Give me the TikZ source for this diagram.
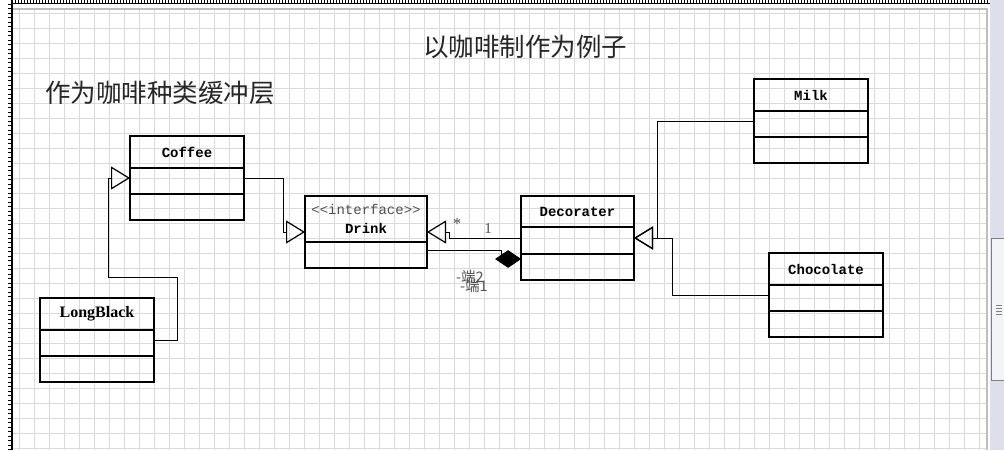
\documentclass[tikz,border=0pt]{standalone}
\usepackage{fontspec}
\setmainfont{Liberation Serif}
\newfontfamily\cjk{Noto Sans CJK SC}
\newfontfamily\umlmono{Liberation Mono}
\usetikzlibrary{shapes.geometric, arrows.meta, calc, positioning}
\definecolor{gridgray}{RGB}{218,218,218}
\definecolor{pagegray}{RGB}{190,190,190}
\definecolor{scrollblue}{RGB}{221,224,234}
\definecolor{labelgray}{RGB}{80,80,80}

\begin{document}
\begin{tikzpicture}[x=1pt, y=-1pt]
        \tikzstyle{classhead}=[draw, line width=1.6pt, minimum width=114pt, minimum height=32pt, inner sep=0pt, outer sep=0pt, anchor=north, font=\umlmono\bfseries\fontsize{14}{16}\selectfont]
        \tikzstyle{classpart}=[draw, line width=1.6pt, minimum width=114pt, minimum height=26pt, inner sep=0pt, outer sep=0pt, anchor=north]
        \tikzstyle{link}=[line width=0.8pt]
        \tikzstyle{inherit}=[link, -{Triangle[open, length=19pt, width=23pt, line width=1.2pt]}]
        \tikzstyle{gridline}=[gridgray, line width=0.8pt]
        \tikzstyle{mult}=[inner sep=0pt, text=labelgray]

        % Canvas
        \useasboundingbox (0,0) rectangle (1004,450);
        \fill[white] (0,0) rectangle (1004,450);

        % Grid of the drawing page
        \foreach \gx in {19,34,...,979} \draw[gridline] (\gx,9) -- (\gx,450);
        \foreach \gy in {13,28,...,448} \draw[gridline] (13,\gy) -- (987,\gy);
        \draw[pagegray, line width=1.2pt] (13,9) -- (987,9) -- (987,450);

        % Rulers and scroll bar
        \draw[line width=3pt, dash pattern=on 1pt off 2pt] (12,1.5) -- (990,1.5);
        \draw[line width=1pt] (12,3) -- (990,3);
        \draw[line width=1.2pt] (12,0) -- (12,450);
        \foreach \ty in {4,8.5,...,450} \draw[line width=0.6pt] (8,\ty) -- (12,\ty);
        \fill[scrollblue] (990,0) rectangle (1004,450);
        \draw[fill=scrollblue!35, draw=gray] (991,238) rectangle (1005,380);
        \foreach \gy in {305,308,311,314} \draw[gray] (996,\gy) -- (1002,\gy);

        % Titles
        \node[font=\cjk\fontsize{25.5}{28}\selectfont, text=black!85] (title) at (525,47) {以咖啡制作为例子};
        \node[font=\cjk\fontsize{25.5}{28}\selectfont, text=black!85] (layer) at (160,93) {作为咖啡种类缓冲层};

        % Class boxes
        \node[classhead] (coffee) at (187,136) {Coffee};
        \node[classpart] (coffeeA) at (coffee.south) {};
        \node[classpart] (coffeeO) at (coffeeA.south) {};

        \node[classhead, minimum width=122pt, minimum height=46pt, align=center] (drink) at (366,196) {{\mdseries\color{labelgray}<<interface>>}\\[3pt]Drink};
        \node[classpart, minimum width=122pt] (drinkA) at (drink.south) {};

        \node[classhead, minimum width=113pt, minimum height=31pt] (dec) at (577.5,196) {Decorater};
        \node[classpart, minimum width=113pt, minimum height=27pt] (decA) at (dec.south) {};
        \node[classpart, minimum width=113pt] (decO) at (decA.south) {};

        \node[classhead] (milk) at (811,79) {Milk};
        \node[classpart] (milkA) at (milk.south) {};
        \node[classpart] (milkO) at (milkA.south) {};

        \node[classhead] (choc) at (826,253) {Chocolate};
        \node[classpart] (chocA) at (choc.south) {};
        \node[classpart] (chocO) at (chocA.south) {};

        \node[classhead, font=\bfseries\fontsize{16}{18}\selectfont] (long) at (97,298) {LongBlack};
        \node[classpart] (longA) at (long.south) {};
        \node[classpart] (longO) at (longA.south) {};

        % Generalisations
        \draw[inherit] ($(coffeeA.east)+(0,-3)$) -| ($(drink.south west)+(-22,-10)$) -- ($(drink.south west)+(0,-10)$);
        \draw[inherit] ($(longA.east)+(0,-3)$) -- ++(23,0) -- ++(0,-63) -| ($(coffeeA.west)+(-22,-3)$) -- ($(coffeeA.west)+(0,-3)$);
        \draw[inherit] ($(milkA.west)+(0,-3)$) -| ($(decA.east)+(23,-2.5)$) -- ($(decA.east)+(0,-2.5)$);
        \draw[inherit] ($(chocA.west)+(0,-3)$) -| ($(decA.east)+(38,-2.5)$) -- ($(decA.east)+(0,-2.5)$);
        \draw[inherit] ($(decA.west)+(0,-2.5)$) -| ($(drink.south east)+(22,-10)$) -- ($(drink.south east)+(0,-10)$);

        % Composition
        \node[diamond, draw, fill, line width=0.8pt, inner sep=0pt, minimum width=25pt, minimum height=17pt, anchor=east] (whole) at ($(decO.north west)+(0,5)$) {};
        \draw[link] ($(drinkA.north east)+(0,8)$) -| (whole.north west);

        % Multiplicities and role names
        \node[mult, font=\fontsize{17}{18}\selectfont] (mstar) at (457,224) {*};
        \node[mult, font=\fontsize{15}{16}\selectfont] (mone) at (488,229) {1};
        \node[mult, font=\cjk\fontsize{14.5}{16}\selectfont] (endtwo) at (470,277) {-端2};
        \node[mult, font=\cjk\fontsize{14.5}{16}\selectfont] (endone) at (474,286) {-端1};
\end{tikzpicture}
\end{document}
